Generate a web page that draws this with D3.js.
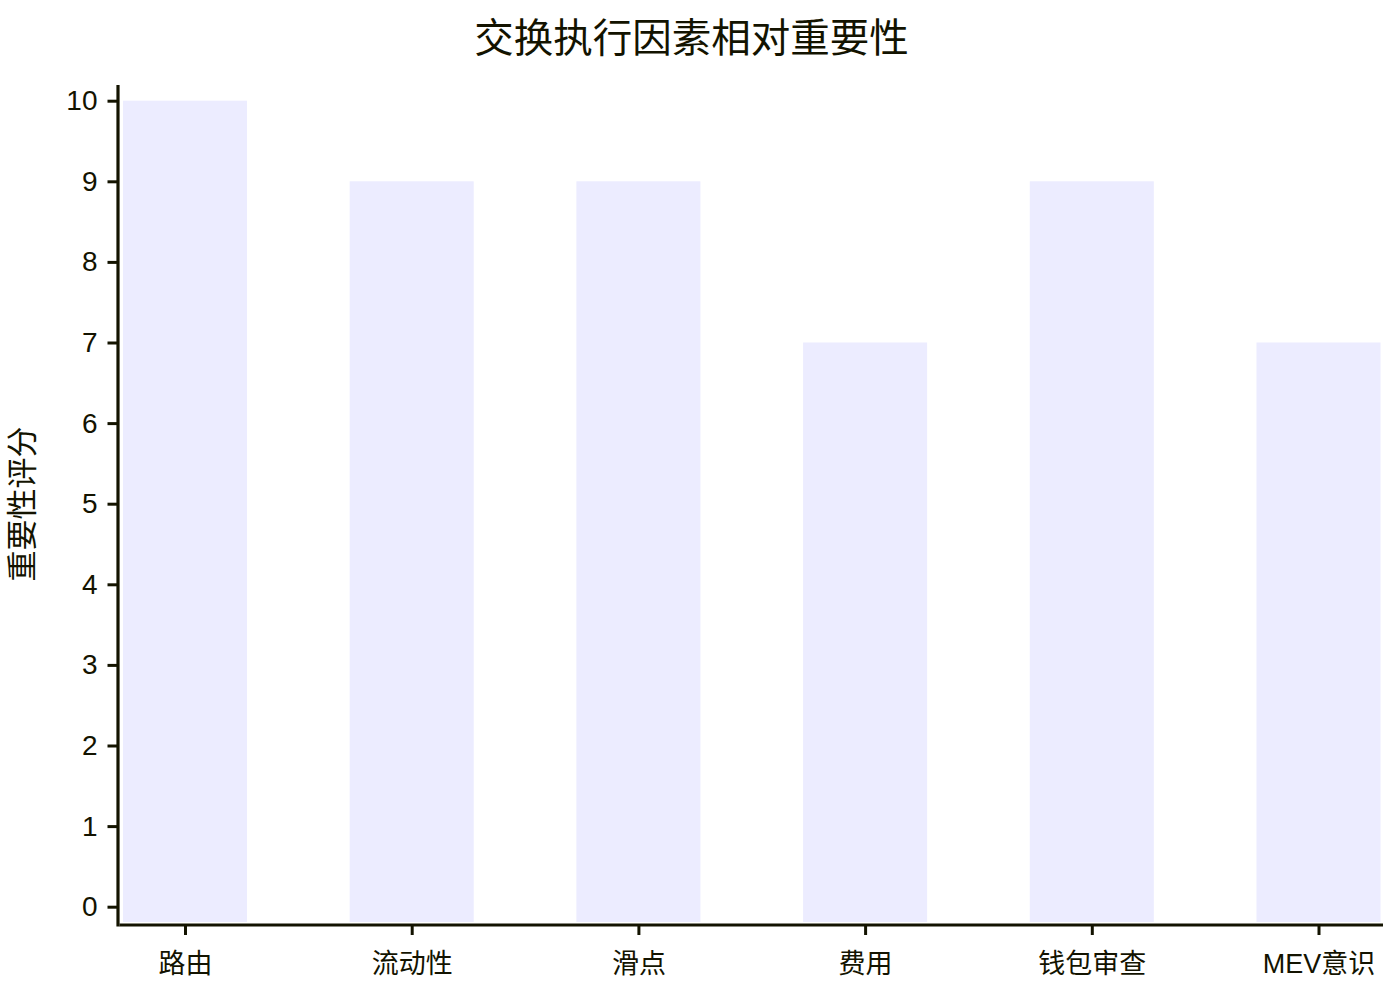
<!DOCTYPE html>
<html>
<head>
<meta charset="utf-8">
<script src="https://cdn.jsdelivr.net/npm/d3@7"></script>
<style>
  body { margin: 0; background: #fff; }
  text { font-family: "Liberation Sans", Arial, "Noto Sans CJK SC", sans-serif; fill: #131300; }
</style>
</head>
<body>
<div id="app"></div>
<script>
const categories = ["路由", "流动性", "滑点", "费用", "钱包审查", "MEV意识"];
const scores = [10, 9, 9, 7, 9, 7];
const yTicks = [0, 1, 2, 3, 4, 5, 6, 7, 8, 9, 10];
const chartTitle = "交换执行因素相对重要性";
const yTitle = "重要性评分";

const width = 1400, height = 1000;
const ink = "#131300";

const svg = d3.select("#app")
    .append("svg")
    .attr("width", width)
    .attr("height", height);

const xScale = d3.scalePoint()
    .domain(categories)
    .range([185, 1318.5]);

const yScale = d3.scaleLinear()
    .domain([0, 10])
    .range([906.7, 100.7]);

const barWidth = 124;
const plotBottom = 922;

// bars
svg.selectAll(".bar")
    .data(categories.map((c, i) => ({ c, v: scores[i] })))
    .enter()
    .append("rect")
    .attr("x", d => xScale(d.c) - barWidth / 2)
    .attr("y", d => yScale(d.v))
    .attr("width", barWidth)
    .attr("height", d => plotBottom - yScale(d.v))
    .attr("fill", "#ECECFF");

// y axis
const yAxis = svg.append("g")
    .attr("transform", "translate(117.5,0)")
    .call(d3.axisLeft(yScale).tickValues(yTicks).tickSize(10).tickPadding(10).tickFormat(d3.format("d")));
yAxis.select(".domain").remove();
yAxis.selectAll("line").attr("stroke", ink).attr("stroke-width", 3);
yAxis.selectAll("text")
    .attr("font-size", "28px")
    .attr("fill", ink)
    .style("font-family", '"Liberation Sans", Arial, sans-serif');

// x axis
const xAxis = svg.append("g")
    .attr("transform", "translate(0,925)")
    .call(d3.axisBottom(xScale).tickSize(10).tickPadding(19));
xAxis.select(".domain").remove();
xAxis.selectAll("line").attr("stroke", ink).attr("stroke-width", 3);
xAxis.selectAll("text")
    .attr("font-size", "27px")
    .attr("fill", ink);

// axis lines
svg.append("line")
    .attr("x1", 118).attr("x2", 118)
    .attr("y1", 85).attr("y2", 926.5)
    .attr("stroke", ink).attr("stroke-width", 3.2);
svg.append("line")
    .attr("x1", 119.5).attr("x2", 1383)
    .attr("y1", 925).attr("y2", 925)
    .attr("stroke", ink).attr("stroke-width", 3.2);

// title
svg.append("text")
    .attr("x", 691.5)
    .attr("y", 42)
    .attr("text-anchor", "middle")
    .attr("dominant-baseline", "middle")
    .attr("font-size", "39.5px")
    .text(chartTitle);

// y axis title
svg.append("text")
    .attr("transform", "translate(25,504) rotate(-90)")
    .attr("text-anchor", "middle")
    .attr("dominant-baseline", "middle")
    .attr("font-size", "31px")
    .text(yTitle);
</script>
</body>
</html>
